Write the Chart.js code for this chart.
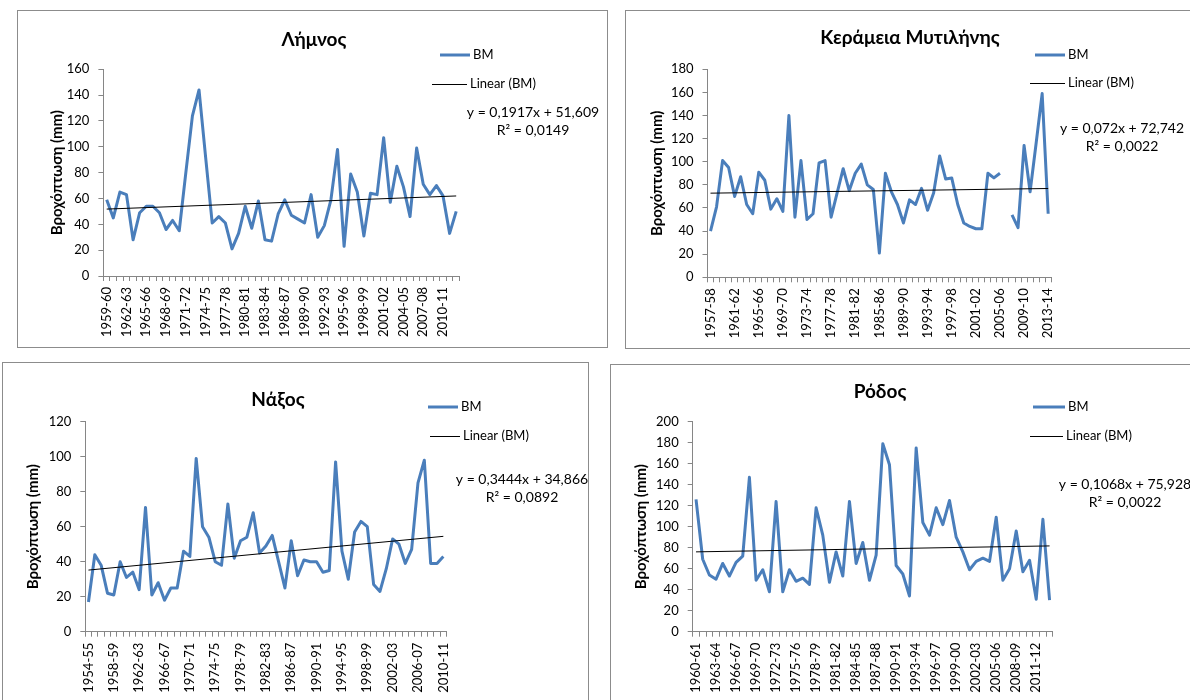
<!DOCTYPE html>
<html><head><meta charset="utf-8">
<script src="https://cdn.jsdelivr.net/npm/chart.js@4.4.1/dist/chart.umd.min.js"></script>
<style>
body{margin:0;background:#fff;width:1190px;height:700px;overflow:hidden;position:relative}
.frame{position:absolute;border:1px solid #8c8c8c;box-sizing:border-box}
canvas{position:absolute}
</style></head><body>
<div class="frame" style="left:17px;top:10px;width:591px;height:338px"></div>
<div class="frame" style="left:625px;top:10px;width:600px;height:339px"></div>
<div class="frame" style="left:2px;top:362px;width:587px;height:360px"></div>
<div class="frame" style="left:610px;top:364px;width:600px;height:360px"></div>
<canvas id="c1" width="589" height="337" style="left:18px;top:11px"></canvas>
<canvas id="c2" width="580" height="337" style="left:626px;top:11px"></canvas>
<canvas id="c3" width="585" height="338" style="left:3px;top:363px"></canvas>
<canvas id="c4" width="580" height="336" style="left:611px;top:365px"></canvas>
<script>
// ---- category labels (hydrological years) ----
const seasons = ["1954-55","1955-56","1956-57","1957-58","1958-59","1959-60","1960-61","1961-62","1962-63","1963-64",
"1964-65","1965-66","1966-67","1967-68","1968-69","1969-70","1970-71","1971-72","1972-73","1973-74",
"1974-75","1975-76","1976-77","1977-78","1978-79","1979-80","1980-81","1981-82","1982-83","1983-84",
"1984-85","1985-86","1986-87","1987-88","1988-89","1989-90","1990-91","1991-92","1992-93","1993-94",
"1994-95","1995-96","1996-97","1997-98","1998-99","1999-00","2000-01","2001-02","2002-03","2003-04",
"2004-05","2005-06","2006-07","2007-08","2008-09","2009-10","2010-11","2011-12","2012-13","2013-14"];

const limnosLabels  = seasons.slice(5, 59);
const keramiaLabels = seasons.slice(3, 60);
const naxosLabels   = seasons.slice(0, 57);
const rodosLabels   = seasons.slice(6, 60);

// ---- series values (mm) ----
const limnosBM = [59,45,65,63,28,49,54,54,49,36,43,35,80,124,144,92,41,46,41,21,33,54,37,58,28,27,48,59,47,44,41,63,30,39,59,98,23,79,65,31,64,63,107,57,85,69,46,99,71,63,70,62,33,50];
const keramiaBM = [40,61,101,95,70,87,63,55,91,84,59,68,57,140,52,101,50,55,99,101,52,73,94,75,90,98,80,76,21,90,74,63,47,67,63,77,58,73,105,85,86,63,47,44,42,42,90,86,90,null,54,43,114,74,116,159,55];
const naxosBM = [17,44,38,22,21,40,31,34,24,71,21,28,18,25,25,46,43,99,60,54,40,38,73,42,52,54,68,45,49,55,40,25,52,32,41,40,40,34,35,97,46,30,57,63,60,27,23,36,53,50,39,47,85,98,39,39,43];
const rodosBM = [126,69,54,50,65,53,66,72,147,49,59,38,124,38,59,48,51,45,118,92,47,76,53,124,65,85,49,73,179,159,63,55,34,175,104,92,118,102,125,90,76,59,67,70,67,109,49,60,96,57,68,31,107,30];

// ---- linear trend coefficients (as shown in the chart) ----
const trendSlope     = [0.1917, 0.072, 0.3444, 0.1068];
const trendIntercept = [51.609, 72.742, 34.866, 75.928];
const trendText = ["y = 0,1917x + 51,609","y = 0,072x + 72,742","y = 0,3444x + 34,866","y = 0,1068x + 75,928"];
const r2Text    = ["R² = 0,0149","R² = 0,0022","R² = 0,0892","R² = 0,0022"];
const titles = ["Λήμνος","Κεράμεια Μυτιλήνης","Νάξος","Ρόδος"];
const yMax  = [160,180,120,200];
const yStep = [20,20,20,20];
const labelEvery = [3,4,4,3];

const BLUE = '#4A7EBB', AXIS = '#868686';
const FONT = 'Lato, Roboto, sans-serif';

const overlay = {
  id: 'overlay',
  afterDraw(chart, args, o) {
    const ctx = chart.ctx;
    ctx.save();
    ctx.fillStyle = '#000';
    ctx.textBaseline = 'middle';
    ctx.textAlign = 'center';
    ctx.font = 'bold 19px ' + FONT;
    ctx.fillText(o.title, o.tx, o.ty);
    // legend
    ctx.lineCap = 'butt';
    ctx.strokeStyle = BLUE; ctx.lineWidth = 3;
    ctx.beginPath(); ctx.moveTo(o.lg1[0], o.lg1[2]); ctx.lineTo(o.lg1[1], o.lg1[2]); ctx.stroke();
    ctx.strokeStyle = '#000'; ctx.lineWidth = 1;
    ctx.beginPath(); ctx.moveTo(o.lg2[0], o.lg2[2] + 0.5); ctx.lineTo(o.lg2[1], o.lg2[2] + 0.5); ctx.stroke();
    ctx.font = '13px ' + FONT;
    ctx.textAlign = 'left';
    ctx.fillText('BM', o.lg1[1] + 3, o.lg1[2]);
    ctx.fillText('Linear (BM)', o.lg2[1] + 3, o.lg2[2]);
    // equation
    ctx.font = '14px ' + FONT;
    ctx.textAlign = 'center';
    ctx.fillText(o.eq, o.ex, o.ey);
    ctx.fillText(o.r2, o.ex, o.ey + 18);
    ctx.restore();
  }
};

function makeChart(id, k, labels, values, geo) {
  const n = labels.length;
  const trend = labels.map(() => null);
  trend[0] = trendSlope[k] * 1 + trendIntercept[k];
  trend[n - 1] = trendSlope[k] * n + trendIntercept[k];
  const cv = document.getElementById(id);
  return new Chart(cv, {
    type: 'line',
    data: {
      labels: labels,
      datasets: [
        {label: 'BM', data: values, borderColor: BLUE, borderWidth: 3, pointRadius: 0, tension: 0, spanGaps: false, order: 2, borderJoinStyle: 'round'},
        {label: 'Linear (BM)', data: trend, borderColor: '#000', borderWidth: 1, pointRadius: 0, tension: 0, spanGaps: true, order: 1}
      ]
    },
    options: {
      responsive: false, animation: false, devicePixelRatio: 1,
      layout: {padding: {left: 0, right: cv.width - geo.right, top: geo.top, bottom: 0}},
      plugins: {
        legend: {display: false}, tooltip: {enabled: false}, title: {display: false},
        overlay: geo.ov
      },
      scales: {
        x: {
          type: 'category', offset: true,
          grid: {offset: true, drawOnChartArea: false, drawTicks: true, tickLength: 5, color: AXIS},
          border: {color: AXIS},
          ticks: {autoSkip: false, maxRotation: 90, minRotation: 90, padding: 6, color: '#000',
                  font: {size: 13, family: FONT},
                  callback: (v, i) => (i % labelEvery[k] === 0 ? labels[i] : '')},
          afterFit: s => { s.height = cv.height - geo.bottom; }
        },
        y: {
          min: 0, max: yMax[k],
          ticks: {stepSize: yStep[k], padding: 9, color: '#000', font: {size: 13, family: FONT}},
          grid: {drawOnChartArea: false, drawTicks: true, tickLength: 5, color: AXIS},
          border: {color: AXIS},
          title: {display: true, text: 'Βροχόπτωση (mm)', color: '#000',
                  font: {size: 15, weight: 'bold', family: FONT}, padding: {top: geo.ytx - 9, bottom: 0}},
          afterFit: s => { s.width = geo.left; }
        }
      }
    },
    plugins: [overlay]
  });
}

makeChart('c1', 0, limnosLabels, limnosBM, {
  left: 85.4, right: 441.5, top: 58.3, bottom: 265, ytx: 39,
  ov: {title: titles[0], tx: 296, ty: 29, lg1: [422, 452, 44], lg2: [414, 449, 73],
       eq: trendText[0], r2: r2Text[0], ex: 515, ey: 101}
});
makeChart('c2', 1, keramiaLabels, keramiaBM, {
  left: 81.5, right: 425.2, top: 58.3, bottom: 266.3, ytx: 31,
  ov: {title: titles[1], tx: 284, ty: 27, lg1: [409, 439, 44], lg2: [404, 439, 72],
       eq: trendText[1], r2: r2Text[1], ex: 496, ey: 117}
});
makeChart('c3', 2, naxosLabels, naxosBM, {
  left: 82.3, right: 443.5, top: 58.7, bottom: 268.7, ytx: 30,
  ov: {title: titles[2], tx: 275, ty: 37, lg1: [425, 455, 44], lg2: [427, 457, 73],
       eq: trendText[2], r2: r2Text[2], ex: 519, ey: 116}
});
makeChart('c4', 3, rodosLabels, rodosBM, {
  left: 81.7, right: 441.9, top: 56.7, bottom: 266.7, ytx: 30,
  ov: {title: titles[3], tx: 269, ty: 27, lg1: [422, 454, 42], lg2: [419, 452, 71],
       eq: trendText[3], r2: r2Text[3], ex: 514, ey: 119}
});
</script>
</body></html>
